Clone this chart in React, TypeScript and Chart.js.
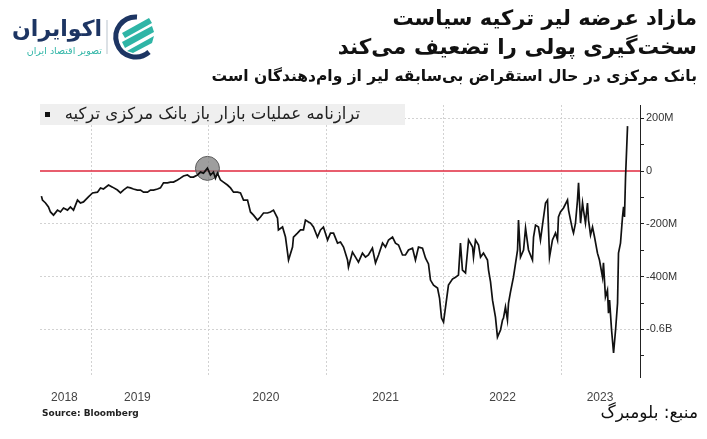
import React, { useEffect, useRef } from 'react';
import { Chart, registerables } from 'chart.js';

Chart.register(...registerables);

// Turkish central bank open-market-operations balance (million lira), by decimal year
const dates: number[] = [
  2018.574, 2018.583, 2018.609, 2018.634, 2018.651, 2018.677, 2018.711, 2018.736, 2018.762, 2018.796,
  2018.821, 2018.847, 2018.881, 2018.906, 2018.932, 2018.974, 2019.009, 2019.051, 2019.077, 2019.102,
  2019.145, 2019.179, 2019.221, 2019.247, 2019.272, 2019.306, 2019.332, 2019.357, 2019.391, 2019.417,
  2019.443, 2019.477, 2019.502, 2019.528, 2019.562, 2019.587, 2019.613, 2019.647, 2019.672, 2019.698,
  2019.732, 2019.757, 2019.783, 2019.817, 2019.843, 2019.868, 2019.902, 2019.928, 2019.953, 2019.987,
  2020.013, 2020.038, 2020.055, 2020.072, 2020.098, 2020.123, 2020.157, 2020.183, 2020.209, 2020.243,
  2020.268, 2020.294, 2020.328, 2020.353, 2020.379, 2020.413, 2020.438, 2020.464, 2020.498, 2020.523,
  2020.549, 2020.583, 2020.591, 2020.626, 2020.651, 2020.677, 2020.711, 2020.719, 2020.753, 2020.779,
  2020.804, 2020.821, 2020.847, 2020.864, 2020.889, 2020.923, 2020.949, 2020.974, 2021.009, 2021.034,
  2021.060, 2021.094, 2021.119, 2021.145, 2021.179, 2021.187, 2021.221, 2021.247, 2021.272, 2021.306,
  2021.332, 2021.357, 2021.391, 2021.417, 2021.443, 2021.477, 2021.502, 2021.528, 2021.562, 2021.587,
  2021.613, 2021.647, 2021.672, 2021.698, 2021.732, 2021.757, 2021.783, 2021.817, 2021.843, 2021.868,
  2021.885, 2021.911, 2021.945, 2021.962, 2021.979, 2021.996, 2022.021, 2022.038, 2022.072, 2022.098,
  2022.123, 2022.140, 2022.157, 2022.183, 2022.209, 2022.243, 2022.251, 2022.268, 2022.294, 2022.311,
  2022.336, 2022.370, 2022.379, 2022.396, 2022.413, 2022.438, 2022.455, 2022.481, 2022.498, 2022.506,
  2022.523, 2022.540, 2022.549, 2022.566, 2022.591, 2022.626, 2022.634, 2022.651, 2022.677, 2022.694,
  2022.719, 2022.753, 2022.762, 2022.779, 2022.804, 2022.821, 2022.838, 2022.864, 2022.881, 2022.898,
  2022.923, 2022.949, 2022.966, 2022.974, 2022.991, 2023.017, 2023.051, 2023.060, 2023.077, 2023.094,
  2023.102, 2023.119, 2023.136, 2023.145, 2023.162, 2023.179, 2023.187, 2023.204, 2023.221, 2023.230,
  2023.247, 2023.264, 2023.281, 2023.306, 2023.323, 2023.349, 2023.357, 2023.374, 2023.391, 2023.400,
  2023.409, 2023.426, 2023.443, 2023.460, 2023.477, 2023.485, 2023.502, 2023.519, 2023.528, 2023.536,
  2023.545, 2023.562,
];

const values: number[] = [
  -95, -110, -121, -136, -155, -167, -148, -155, -140, -148,
  -136, -148, -110, -121, -117, -98, -83, -80, -64, -68,
  -53, -61, -72, -83, -72, -61, -64, -68, -72, -72,
  -80, -80, -72, -72, -68, -64, -45, -45, -42, -42,
  -34, -27, -19, -15, -23, -23, -15, -4, -8, 11,
  -15, -4, -27, -8, -34, -42, -53, -64, -80, -80,
  -83, -110, -110, -155, -167, -186, -174, -159, -159, -155,
  -148, -178, -223, -212, -250, -337, -288, -250, -235, -223,
  -223, -186, -193, -197, -212, -250, -223, -212, -261, -235,
  -235, -273, -269, -288, -337, -364, -307, -326, -345, -311,
  -326, -318, -292, -348, -318, -273, -288, -261, -250, -273,
  -280, -318, -318, -299, -292, -337, -288, -292, -330, -352,
  -413, -432, -443, -481, -557, -572, -489, -432, -409, -402,
  -394, -273, -375, -386, -261, -288, -326, -261, -280, -326,
  -311, -337, -375, -420, -489, -553, -629, -602, -564, -557,
  -515, -564, -500, -458, -402, -299, -186, -326, -299, -216,
  -299, -337, -250, -205, -212, -261, -205, -121, -110, -326,
  -261, -235, -261, -174, -155, -140, -110, -148, -186, -223,
  -235, -197, -110, -45, -197, -121, -148, -197, -121, -186,
  -242, -212, -250, -311, -337, -402, -348, -477, -451, -538,
  -489, -602, -689, -602, -500, -311, -273, -174, -136, -174,
  -23, 170,
];

const yearLabels: string[] = ['2018', '2019', '2020', '2021', '2022', '2023'];
const yearLabelPos: number[] = [2018.77, 2019.391, 2020.485, 2021.502, 2022.498, 2023.328];
const yearBoundaries: number[] = [2019, 2020, 2021, 2022, 2023];

const yTickValues: number[] = [200, 0, -200, -400, -600];
const yTickLabels: string[] = ['200M', '0', '-200M', '-400M', '-0.6B'];

const markerDate: number[] = [2019.987];
const markerValue: number[] = [10];

const zeroLineValue = 0;

const xMin = 2018.562;
const xMax = 2023.668;
const yMin = -780;
const yMax = 250;

const W = 707;
const H = 439;

const persian = '"DejaVu Sans", "Noto Sans", sans-serif';

function Logo() {
  return (
    <div style={{ position: 'absolute', left: 8, top: 10, width: 150, height: 52 }}>
      <svg width="150" height="52" viewBox="0 0 150 52" style={{ position: 'absolute', left: 0, top: 0 }}>
        <line x1="99" y1="10" x2="99" y2="44" stroke="#b9c3cc" strokeWidth="1" />
        <path d="M129 7 A20 20 0 1 0 141 42" fill="none" stroke="#1d3563" strokeWidth="5" />
        <path d="M114 23 L141 8 L144 13 L117 28 Z" fill="#2fb5a6" />
        <path d="M114 32 L144 16 L146 22 L117 38 Z" fill="#2fb5a6" />
        <path d="M119 41 L146 26 L144 33 L125 43 Z" fill="#2fb5a6" />
      </svg>
      <div dir="rtl" style={{ position: 'absolute', right: 56, top: 6, fontFamily: persian, fontWeight: 700, fontSize: 22, lineHeight: '26px', color: '#1d3563', whiteSpace: 'nowrap' }}>اکوایران</div>
      <div dir="rtl" style={{ position: 'absolute', right: 56, top: 35, fontFamily: persian, fontSize: 9.5, lineHeight: '12px', color: '#2fb5a6', whiteSpace: 'nowrap' }}>تصویر اقتصاد ایران</div>
    </div>
  );
}

export default function App() {
  const ref = useRef<HTMLCanvasElement | null>(null);

  useEffect(() => {
    const canvas = ref.current;
    if (!canvas) return;
    const mainData = dates.map((d, i) => ({ x: d, y: values[i] }));
    const chart = new Chart(canvas, {
      type: 'line',
      data: {
        datasets: [
          {
            label: 'balance',
            data: mainData,
            borderColor: '#111111',
            borderWidth: 1.7,
            pointRadius: 0,
            tension: 0,
            fill: false,
            order: 0,
          },
          {
            label: 'marker',
            data: markerDate.map((d, i) => ({ x: d, y: markerValue[i] })),
            showLine: false,
            pointRadius: 12,
            pointBackgroundColor: 'rgba(125,125,125,0.75)',
            pointBorderColor: '#5a5a5a',
            pointBorderWidth: 1,
            order: 1,
          },
          {
            label: 'zero',
            data: [
              { x: xMin, y: zeroLineValue },
              { x: xMax, y: zeroLineValue },
            ],
            borderColor: '#e0283e',
            borderWidth: 1.6,
            pointRadius: 0,
            order: 2,
          },
        ],
      },
      options: {
        responsive: false,
        animation: false,
        events: [],
        layout: { padding: { left: 40, top: 105, right: 0, bottom: 0 } },
        plugins: {
          legend: { display: false },
          tooltip: { enabled: false },
          title: { display: false },
        },
        scales: {
          x: {
            type: 'linear',
            position: 'bottom',
            min: xMin,
            max: xMax,
            afterBuildTicks: (s: any) => {
              s.ticks = yearLabelPos.map((v) => ({ value: v }));
            },
            afterFit: (s: any) => {
              s.height = 62;
            },
            ticks: {
              autoSkip: false,
              maxRotation: 0,
              padding: 13,
              color: '#444',
              font: { family: '"Liberation Sans", Arial, sans-serif', size: 12 },
              callback: (_v: any, i: number) => yearLabels[i],
            },
            grid: { display: false, drawTicks: false },
            border: { display: false },
          },
          xg: {
            type: 'linear',
            position: 'top',
            min: xMin,
            max: xMax,
            afterBuildTicks: (s: any) => {
              s.ticks = yearBoundaries.map((v) => ({ value: v }));
            },
            afterFit: (s: any) => {
              s.height = 0;
            },
            ticks: { display: false },
            grid: { color: '#d2d2d2', lineWidth: 1, drawTicks: false },
            border: { display: false, dash: [2, 2] },
          },
          y: {
            type: 'linear',
            position: 'right',
            min: yMin,
            max: yMax,
            afterFit: (s: any) => {
              s.width = W - 640;
            },
            ticks: {
              stepSize: 100,
              includeBounds: false,
              autoSkip: false,
              padding: 2,
              color: '#333',
              font: { family: '"Liberation Sans", Arial, sans-serif', size: 11 },
              callback: (v: any) => {
                const i = yTickValues.indexOf(Number(v));
                return i >= 0 ? yTickLabels[i] : '';
              },
            },
            grid: {
              drawOnChartArea: true,
              tickLength: 4,
              tickColor: '#222',
              tickBorderDash: [],
              color: (ctx: any) => {
                const v = ctx.tick ? ctx.tick.value : null;
                return v !== null && v !== 0 && yTickValues.includes(v) ? '#d2d2d2' : 'rgba(0,0,0,0)';
              },
            },
            border: { display: true, color: '#222', width: 1, dash: [2, 2] },
          },
        },
      },
    } as any);
    return () => chart.destroy();
  }, []);

  return (
    <div style={{ position: 'absolute', left: 0, top: 0, width: W, height: H, background: '#fff', overflow: 'hidden' }}>
      <canvas ref={ref} width={W} height={H} style={{ position: 'absolute', left: 0, top: 0, width: W, height: H, display: 'block' }} />
      <Logo />
      <div dir="rtl" style={{ position: 'absolute', right: 10, top: 3, fontFamily: persian, fontWeight: 700, fontSize: 21, lineHeight: '30px', color: '#111', whiteSpace: 'nowrap' }}>
        مازاد عرضه لیر ترکیه سیاست
      </div>
      <div dir="rtl" style={{ position: 'absolute', right: 10, top: 32, fontFamily: persian, fontWeight: 700, fontSize: 21.5, lineHeight: '30px', color: '#111', whiteSpace: 'nowrap' }}>
        سخت‌گیری پولی را تضعیف می‌کند
      </div>
      <div dir="rtl" style={{ position: 'absolute', right: 10, top: 64, fontFamily: persian, fontWeight: 700, fontSize: 15.5, lineHeight: '24px', color: '#111', whiteSpace: 'nowrap' }}>
        بانک مرکزی در حال استقراض بی‌سابقه لیر از وام‌دهندگان است
      </div>
      <div style={{ position: 'absolute', left: 40, top: 104, width: 365, height: 21, background: '#efefef' }} />
      <div style={{ position: 'absolute', left: 45, top: 112, width: 5, height: 5, background: '#111' }} />
      <div dir="rtl" style={{ position: 'absolute', right: W - 360, top: 103, fontFamily: persian, fontSize: 16.5, lineHeight: '22px', color: '#222', whiteSpace: 'nowrap' }}>
        ترازنامه عملیات بازار باز بانک مرکزی ترکیه
      </div>
      <div style={{ position: 'absolute', left: 42, top: 406, fontFamily: '"DejaVu Sans", Verdana, sans-serif', fontWeight: 700, fontSize: 9, lineHeight: '14px', color: '#222', whiteSpace: 'nowrap' }}>
        Source: Bloomberg
      </div>
      <div dir="rtl" style={{ position: 'absolute', right: 9, top: 400, fontFamily: persian, fontSize: 17, lineHeight: '24px', color: '#111', whiteSpace: 'nowrap' }}>
        منبع: بلومبرگ
      </div>
    </div>
  );
}
